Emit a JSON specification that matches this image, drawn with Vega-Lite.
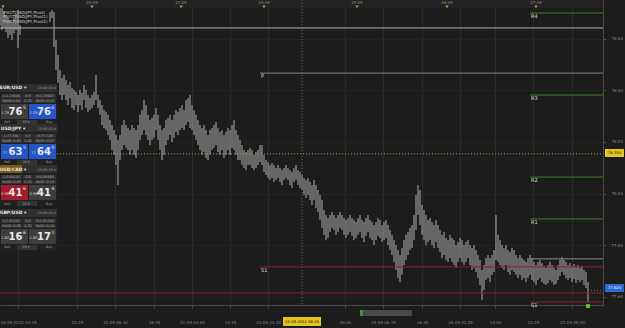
{
"$schema": "https://vega.github.io/schema/vega-lite/v6.json",
"width": 603,
"height": 305,
"autosize": {"type": "none"},
"padding": {"left": 0, "top": 0, "right": 22, "bottom": 23},
"background": "#1c1c1c",
"config": {
  "view": {"stroke": null},
  "axis": {"labelFont": "DejaVu Sans", "domainColor": "#4a4a4a", "tickColor": "#4a4a4a", "labelColor": "#8c8c8c"},
  "text": {"font": "DejaVu Sans"}
},
"resolve": {"scale": {"color": "independent"}},
"datasets": {
  "strip": [{"x": 0, "x2": 603, "t": 78.7504, "b": 78.7194}],
  "bars": [
    {"x":0,"h":78.731,"l":78.653},{"x":2,"h":78.719,"l":78.634},{"x":4,"h":78.704,"l":78.642},{"x":6,"h":78.692,"l":78.626},{"x":8,"h":78.681,"l":78.603},{"x":10,"h":78.673,"l":78.615},{"x":12,"h":78.665,"l":78.595},{"x":14,"h":78.681,"l":78.622},{"x":16,"h":78.696,"l":78.634},{"x":18,"h":78.712,"l":78.564},{"x":20,"h":78.653,"l":78.615},
    {"x":50,"h":78.704,"l":78.665},{"x":52,"h":78.712,"l":78.681},{"x":54,"h":78.704,"l":78.568},{"x":56,"h":78.595,"l":78.479},{"x":58,"h":78.537,"l":78.429},{"x":60,"h":78.479,"l":78.382},{"x":62,"h":78.448,"l":78.363},{"x":64,"h":78.460,"l":78.382},{"x":66,"h":78.440,"l":78.363},{"x":68,"h":78.421,"l":78.343},{"x":70,"h":78.433,"l":78.370},{"x":72,"h":78.409,"l":78.332},{"x":74,"h":78.402,"l":78.324},{"x":76,"h":78.394,"l":78.343},{"x":78,"h":78.382,"l":78.316},{"x":80,"h":78.402,"l":78.343},{"x":82,"h":78.390,"l":78.324},{"x":84,"h":78.421,"l":78.363},{"x":86,"h":78.402,"l":78.332},{"x":88,"h":78.382,"l":78.316},{"x":90,"h":78.370,"l":78.324},{"x":92,"h":78.382,"l":78.332},{"x":94,"h":78.394,"l":78.343},{"x":96,"h":78.460,"l":78.363},{"x":98,"h":78.382,"l":78.332},
    {"x":100,"h":78.363,"l":78.305},{"x":102,"h":78.343,"l":78.266},{"x":104,"h":78.324,"l":78.254},{"x":106,"h":78.316,"l":78.246},{"x":108,"h":78.305,"l":78.227},{"x":110,"h":78.285,"l":78.208},{"x":112,"h":78.266,"l":78.169},{"x":114,"h":78.246,"l":78.150},{"x":116,"h":78.227,"l":78.111},{"x":118,"h":78.208,"l":78.033},{"x":120,"h":78.227,"l":78.130},{"x":122,"h":78.266,"l":78.169},{"x":124,"h":78.285,"l":78.188},{"x":126,"h":78.266,"l":78.177},{"x":128,"h":78.254,"l":78.169},{"x":130,"h":78.246,"l":78.150},{"x":132,"h":78.266,"l":78.169},{"x":134,"h":78.254,"l":78.150},{"x":136,"h":78.246,"l":78.138},{"x":138,"h":78.266,"l":78.169},{"x":140,"h":78.305,"l":78.208},{"x":142,"h":78.324,"l":78.227},{"x":144,"h":78.363,"l":78.246},{"x":146,"h":78.343,"l":78.227},{"x":148,"h":78.305,"l":78.208},
    {"x":150,"h":78.285,"l":78.188},{"x":152,"h":78.293,"l":78.208},{"x":154,"h":78.305,"l":78.216},{"x":156,"h":78.332,"l":78.246},{"x":158,"h":78.305,"l":78.208},{"x":160,"h":78.266,"l":78.169},{"x":162,"h":78.246,"l":78.130},{"x":164,"h":78.254,"l":78.150},{"x":166,"h":78.285,"l":78.188},{"x":168,"h":78.293,"l":78.208},{"x":170,"h":78.305,"l":78.227},{"x":172,"h":78.285,"l":78.200},{"x":174,"h":78.305,"l":78.216},{"x":176,"h":78.324,"l":78.239},{"x":178,"h":78.316,"l":78.227},{"x":180,"h":78.332,"l":78.246},{"x":182,"h":78.343,"l":78.254},{"x":184,"h":78.324,"l":78.246},{"x":186,"h":78.363,"l":78.266},{"x":188,"h":78.370,"l":78.278},{"x":190,"h":78.382,"l":78.254},{"x":192,"h":78.343,"l":78.246},{"x":194,"h":78.324,"l":78.227},{"x":196,"h":78.305,"l":78.208},{"x":198,"h":78.285,"l":78.188},
    {"x":200,"h":78.266,"l":78.169},{"x":202,"h":78.254,"l":78.150},{"x":204,"h":78.266,"l":78.161},{"x":206,"h":78.246,"l":78.138},{"x":208,"h":78.227,"l":78.130},{"x":210,"h":78.246,"l":78.150},{"x":212,"h":78.254,"l":78.169},{"x":214,"h":78.266,"l":78.177},{"x":216,"h":78.278,"l":78.188},{"x":218,"h":78.254,"l":78.161},{"x":220,"h":78.239,"l":78.150},{"x":222,"h":78.246,"l":78.169},{"x":224,"h":78.227,"l":78.138},{"x":226,"h":78.239,"l":78.150},{"x":228,"h":78.254,"l":78.169},{"x":230,"h":78.246,"l":78.150},{"x":232,"h":78.266,"l":78.177},{"x":234,"h":78.285,"l":78.169},{"x":236,"h":78.246,"l":78.150},{"x":238,"h":78.227,"l":78.130},{"x":240,"h":78.208,"l":78.130},{"x":242,"h":78.188,"l":78.111},{"x":244,"h":78.169,"l":78.099},{"x":246,"h":78.161,"l":78.091},{"x":248,"h":78.169,"l":78.111},
    {"x":250,"h":78.177,"l":78.111},{"x":252,"h":78.169,"l":78.099},{"x":254,"h":78.150,"l":78.091},{"x":256,"h":78.161,"l":78.099},{"x":258,"h":78.169,"l":78.111},{"x":260,"h":78.188,"l":78.122},{"x":262,"h":78.188,"l":78.111},{"x":264,"h":78.150,"l":78.084},{"x":266,"h":78.130,"l":78.072},{"x":268,"h":78.122,"l":78.060},{"x":270,"h":78.111,"l":78.053},{"x":272,"h":78.119,"l":78.060},{"x":274,"h":78.111,"l":78.045},{"x":276,"h":78.099,"l":78.053},{"x":278,"h":78.111,"l":78.060},{"x":280,"h":78.099,"l":78.045},{"x":282,"h":78.091,"l":78.033},{"x":284,"h":78.099,"l":78.053},{"x":286,"h":78.111,"l":78.060},{"x":288,"h":78.099,"l":78.053},{"x":290,"h":78.091,"l":78.033},{"x":292,"h":78.084,"l":78.022},{"x":294,"h":78.099,"l":78.045},{"x":296,"h":78.111,"l":78.053},{"x":298,"h":78.091,"l":78.033},
    {"x":300,"h":78.084,"l":78.022},{"x":302,"h":78.072,"l":78.014},{"x":304,"h":78.060,"l":77.995},{"x":306,"h":78.053,"l":77.983},{"x":308,"h":78.060,"l":77.995},{"x":310,"h":78.045,"l":77.975},{"x":312,"h":78.033,"l":77.956},{"x":314,"h":78.053,"l":77.975},{"x":316,"h":78.033,"l":77.944},{"x":318,"h":78.014,"l":77.929},{"x":320,"h":77.995,"l":77.898},{"x":322,"h":77.975,"l":77.867},{"x":324,"h":77.936,"l":77.840},{"x":326,"h":77.917,"l":77.820},{"x":328,"h":77.905,"l":77.828},{"x":330,"h":77.917,"l":77.851},{"x":332,"h":77.929,"l":77.867},{"x":334,"h":77.917,"l":77.859},{"x":336,"h":77.905,"l":77.840},{"x":338,"h":77.917,"l":77.851},{"x":340,"h":77.929,"l":77.867},{"x":342,"h":77.917,"l":77.859},{"x":344,"h":77.905,"l":77.840},{"x":346,"h":77.898,"l":77.828},{"x":348,"h":77.905,"l":77.840},
    {"x":350,"h":77.917,"l":77.851},{"x":352,"h":77.905,"l":77.836},{"x":354,"h":77.898,"l":77.820},{"x":356,"h":77.890,"l":77.828},{"x":358,"h":77.905,"l":77.840},{"x":360,"h":77.917,"l":77.851},{"x":362,"h":77.898,"l":77.828},{"x":364,"h":77.890,"l":77.812},{"x":366,"h":77.905,"l":77.836},{"x":368,"h":77.917,"l":77.851},{"x":370,"h":77.898,"l":77.828},{"x":372,"h":77.890,"l":77.820},{"x":374,"h":77.878,"l":77.801},{"x":376,"h":77.890,"l":77.820},{"x":378,"h":77.905,"l":77.836},{"x":380,"h":77.898,"l":77.828},{"x":382,"h":77.878,"l":77.812},{"x":384,"h":77.890,"l":77.820},{"x":386,"h":77.898,"l":77.828},{"x":388,"h":77.878,"l":77.801},{"x":390,"h":77.859,"l":77.781},{"x":392,"h":77.840,"l":77.762},{"x":394,"h":77.820,"l":77.735},{"x":396,"h":77.801,"l":77.704},{"x":398,"h":77.781,"l":77.673},
    {"x":400,"h":77.762,"l":77.657},{"x":402,"h":77.789,"l":77.685},{"x":404,"h":77.820,"l":77.723},{"x":406,"h":77.840,"l":77.743},{"x":408,"h":77.851,"l":77.762},{"x":410,"h":77.867,"l":77.781},{"x":412,"h":77.878,"l":77.789},{"x":414,"h":77.917,"l":77.820},{"x":416,"h":77.995,"l":77.859},{"x":418,"h":78.033,"l":77.917},{"x":420,"h":78.014,"l":77.878},{"x":422,"h":77.956,"l":77.840},{"x":424,"h":77.936,"l":77.820},{"x":426,"h":77.917,"l":77.801},{"x":428,"h":77.898,"l":77.812},{"x":430,"h":77.905,"l":77.820},{"x":432,"h":77.890,"l":77.801},{"x":434,"h":77.878,"l":77.789},{"x":436,"h":77.898,"l":77.812},{"x":438,"h":77.878,"l":77.789},{"x":440,"h":77.859,"l":77.774},{"x":442,"h":77.840,"l":77.750},{"x":444,"h":77.851,"l":77.762},{"x":446,"h":77.828,"l":77.743},{"x":448,"h":77.820,"l":77.735},
    {"x":450,"h":77.840,"l":77.750},{"x":452,"h":77.828,"l":77.735},{"x":454,"h":77.820,"l":77.723},{"x":456,"h":77.801,"l":77.712},{"x":458,"h":77.812,"l":77.735},{"x":460,"h":77.828,"l":77.750},{"x":462,"h":77.820,"l":77.735},{"x":464,"h":77.801,"l":77.723},{"x":466,"h":77.812,"l":77.735},{"x":468,"h":77.820,"l":77.750},{"x":470,"h":77.801,"l":77.723},{"x":472,"h":77.789,"l":77.704},{"x":474,"h":77.801,"l":77.712},{"x":476,"h":77.781,"l":77.696},{"x":478,"h":77.762,"l":77.673},{"x":480,"h":77.743,"l":77.646},{"x":482,"h":77.704,"l":77.588},{"x":484,"h":77.723,"l":77.626},{"x":486,"h":77.750,"l":77.665},{"x":488,"h":77.762,"l":77.673},{"x":490,"h":77.750,"l":77.657},{"x":492,"h":77.762,"l":77.685},{"x":494,"h":77.781,"l":77.696},{"x":496,"h":77.917,"l":77.743},{"x":498,"h":77.840,"l":77.735},
    {"x":500,"h":77.820,"l":77.723},{"x":502,"h":77.801,"l":77.712},{"x":504,"h":77.789,"l":77.704},{"x":506,"h":77.801,"l":77.723},{"x":508,"h":77.781,"l":77.696},{"x":510,"h":77.774,"l":77.685},{"x":512,"h":77.789,"l":77.704},{"x":514,"h":77.781,"l":77.696},{"x":516,"h":77.762,"l":77.685},{"x":518,"h":77.750,"l":77.673},{"x":520,"h":77.762,"l":77.685},{"x":522,"h":77.750,"l":77.665},{"x":524,"h":77.743,"l":77.673},{"x":526,"h":77.735,"l":77.657},{"x":528,"h":77.750,"l":77.673},{"x":530,"h":77.762,"l":77.685},{"x":532,"h":77.750,"l":77.665},{"x":534,"h":77.735,"l":77.657},{"x":536,"h":77.723,"l":77.646},{"x":538,"h":77.735,"l":77.665},{"x":540,"h":77.743,"l":77.673},{"x":542,"h":77.731,"l":77.657},{"x":544,"h":77.719,"l":77.650},{"x":546,"h":77.712,"l":77.646},{"x":548,"h":77.723,"l":77.653},
    {"x":550,"h":77.735,"l":77.665},{"x":552,"h":77.723,"l":77.657},{"x":554,"h":77.712,"l":77.646},{"x":556,"h":77.704,"l":77.650},{"x":558,"h":77.723,"l":77.665},{"x":560,"h":77.743,"l":77.681},{"x":562,"h":77.754,"l":77.696},{"x":564,"h":77.743,"l":77.685},{"x":566,"h":77.735,"l":77.673},{"x":568,"h":77.723,"l":77.665},{"x":570,"h":77.731,"l":77.673},{"x":572,"h":77.719,"l":77.657},{"x":574,"h":77.727,"l":77.669},{"x":576,"h":77.716,"l":77.653},{"x":578,"h":77.723,"l":77.665},{"x":580,"h":77.712,"l":77.657},{"x":582,"h":77.719,"l":77.665},{"x":584,"h":77.704,"l":77.646},{"x":586,"h":77.696,"l":77.634},{"x":588,"h":77.657,"l":77.580}
  ],
  "levels": [
    {"name":"","from":0,"to":603,"price":78.642,"kind":"line"},
    {"name":"R4","from":530,"to":603,"price":78.700,"kind":"res"},
    {"name":"P","from":260,"to":603,"price":78.467,"kind":"pivot"},
    {"name":"R3","from":530,"to":603,"price":78.382,"kind":"res"},
    {"name":"R2","from":530,"to":603,"price":78.064,"kind":"res"},
    {"name":"R1","from":530,"to":603,"price":77.902,"kind":"res"},
    {"name":"","from":530,"to":603,"price":77.747,"kind":"pivot"},
    {"name":"S1","from":260,"to":603,"price":77.716,"kind":"sup"},
    {"name":"","from":0,"to":603,"price":77.615,"kind":"sup"},
    {"name":"S1","from":530,"to":603,"price":77.580,"kind":"sup"}
  ],
  "dotted": [
    {"from":0,"to":603,"price":78.154,"kind":"bid"},
    {"from":588,"to":603,"price":77.625,"kind":"ask"}
  ],
  "cross": [{"x": 302}],
  "wbox": [
    {"x":0,"x2":57,"t":78.4248,"b":78.2620,"k":"panel"},
    {"x":0,"x2":57,"t":78.4248,"b":78.3938,"k":"head"},
    {"x":1,"x2":22,"t":78.3861,"b":78.3706,"k":"cell"},{"x":23,"x2":33,"t":78.3861,"b":78.3706,"k":"cell"},{"x":34,"x2":56,"t":78.3861,"b":78.3706,"k":"cell"},
    {"x":1,"x2":22,"t":78.3667,"b":78.3512,"k":"cell"},{"x":23,"x2":33,"t":78.3667,"b":78.3512,"k":"cell"},{"x":34,"x2":56,"t":78.3667,"b":78.3512,"k":"cell"},
    {"x":1,"x2":28,"t":78.3473,"b":78.2892,"k":"gray"},{"x":29,"x2":56,"t":78.3473,"b":78.2892,"k":"buy"},
    {"x":17,"x2":37,"t":78.2853,"b":78.2659,"k":"cell"},
    {"x":0,"x2":57,"t":78.2698,"b":78.1070,"k":"panel"},
    {"x":0,"x2":57,"t":78.2698,"b":78.2388,"k":"head"},
    {"x":1,"x2":22,"t":78.2310,"b":78.2155,"k":"cell"},{"x":23,"x2":33,"t":78.2310,"b":78.2155,"k":"cell"},{"x":34,"x2":56,"t":78.2310,"b":78.2155,"k":"cell"},
    {"x":1,"x2":22,"t":78.2117,"b":78.1961,"k":"cell"},{"x":23,"x2":33,"t":78.2117,"b":78.1961,"k":"cell"},{"x":34,"x2":56,"t":78.2117,"b":78.1961,"k":"cell"},
    {"x":1,"x2":28,"t":78.1923,"b":78.1341,"k":"buy"},{"x":29,"x2":56,"t":78.1923,"b":78.1341,"k":"buy"},
    {"x":17,"x2":37,"t":78.1302,"b":78.1109,"k":"cell"},
    {"x":0,"x2":57,"t":78.1109,"b":77.9481,"k":"panel"},
    {"x":0,"x2":57,"t":78.1109,"b":78.0798,"k":"head"},
    {"x":0,"x2":22,"t":78.1109,"b":78.0798,"k":"cadhead"},
    {"x":1,"x2":22,"t":78.0721,"b":78.0566,"k":"cell"},{"x":23,"x2":33,"t":78.0721,"b":78.0566,"k":"cell"},{"x":34,"x2":56,"t":78.0721,"b":78.0566,"k":"cell"},
    {"x":1,"x2":22,"t":78.0527,"b":78.0372,"k":"cell"},{"x":23,"x2":33,"t":78.0527,"b":78.0372,"k":"cell"},{"x":34,"x2":56,"t":78.0527,"b":78.0372,"k":"cell"},
    {"x":1,"x2":28,"t":78.0334,"b":77.9752,"k":"red"},{"x":29,"x2":56,"t":78.0334,"b":77.9752,"k":"gray"},
    {"x":17,"x2":37,"t":77.9713,"b":77.9520,"k":"cell"},
    {"x":0,"x2":57,"t":77.9403,"b":77.7775,"k":"panel"},
    {"x":0,"x2":57,"t":77.9403,"b":77.9093,"k":"head"},
    {"x":1,"x2":22,"t":77.9016,"b":77.8861,"k":"cell"},{"x":23,"x2":33,"t":77.9016,"b":77.8861,"k":"cell"},{"x":34,"x2":56,"t":77.9016,"b":77.8861,"k":"cell"},
    {"x":1,"x2":22,"t":77.8822,"b":77.8667,"k":"cell"},{"x":23,"x2":33,"t":77.8822,"b":77.8667,"k":"cell"},{"x":34,"x2":56,"t":77.8822,"b":77.8667,"k":"cell"},
    {"x":1,"x2":28,"t":77.8628,"b":77.8047,"k":"gray"},{"x":29,"x2":56,"t":77.8628,"b":77.8047,"k":"gray"},
    {"x":17,"x2":37,"t":77.8008,"b":77.7814,"k":"cell"}
  ],
  "wtext": [
    {"x":13,"y":78.4074,"t":"EUR/USD ▾","r":"head"},{"x":45,"y":78.4074,"t":"13:40:20","r":"small"},{"x":55,"y":78.4074,"t":"×","r":"small"},
    {"x":11.5,"y":78.3783,"t":"L:1.28446","r":"small"},{"x":28,"y":78.3783,"t":"0.6","r":"small"},{"x":45,"y":78.3783,"t":"H:1.29007","r":"small"},
    {"x":11.5,"y":78.3589,"t":"RollB:0.04","r":"small"},{"x":28,"y":78.3589,"t":"0.70","r":"small"},{"x":45,"y":78.3589,"t":"RollS:-0.15","r":"small"},
    {"x":5,"y":78.3124,"t":"1.29","r":"pre"},{"x":15.5,"y":78.3163,"t":"76","r":"big"},{"x":24.5,"y":78.3318,"t":"5","r":"sup"},
    {"x":33.5,"y":78.3124,"t":"1.29","r":"pre"},{"x":44,"y":78.3163,"t":"76","r":"big"},{"x":53,"y":78.3318,"t":"6","r":"sup"},
    {"x":7,"y":78.2756,"t":"Sell","r":"small"},{"x":26,"y":78.2756,"t":"10    ▾","r":"small"},{"x":49,"y":78.2756,"t":"Buy","r":"small"},
    {"x":13,"y":78.2523,"t":"USD/JPY ▾","r":"head"},{"x":45,"y":78.2523,"t":"13:40:20","r":"small"},{"x":55,"y":78.2523,"t":"×","r":"small"},
    {"x":11.5,"y":78.2233,"t":"L:77.581","r":"small"},{"x":28,"y":78.2233,"t":"0.5","r":"small"},{"x":45,"y":78.2233,"t":"H:77.729","r":"small"},
    {"x":11.5,"y":78.2039,"t":"RollB:-0.05","r":"small"},{"x":28,"y":78.2039,"t":"1.00","r":"small"},{"x":45,"y":78.2039,"t":"RollS:-0.07","r":"small"},
    {"x":5,"y":78.1574,"t":"77","r":"pre"},{"x":15.5,"y":78.1612,"t":"63","r":"big"},{"x":24.5,"y":78.1768,"t":"5","r":"sup"},
    {"x":33.5,"y":78.1574,"t":"77","r":"pre"},{"x":44,"y":78.1612,"t":"64","r":"big"},{"x":53,"y":78.1768,"t":"0","r":"sup"},
    {"x":7,"y":78.1206,"t":"Sell","r":"small"},{"x":26,"y":78.1206,"t":"20    ▾","r":"small"},{"x":49,"y":78.1206,"t":"Buy","r":"small"},
    {"x":13,"y":78.0934,"t":"USD/CAD ▾","r":"head"},{"x":45,"y":78.0934,"t":"13:40:19","r":"small"},{"x":55,"y":78.0934,"t":"×","r":"small"},
    {"x":11.5,"y":78.0644,"t":"L:0.98142","r":"small"},{"x":28,"y":78.0644,"t":"0.6","r":"small"},{"x":45,"y":78.0644,"t":"H:0.98568","r":"small"},
    {"x":11.5,"y":78.0450,"t":"RollB:-0.05","r":"small"},{"x":28,"y":78.0450,"t":"0.70","r":"small"},{"x":45,"y":78.0450,"t":"RollS:-0.14","r":"small"},
    {"x":5,"y":77.9985,"t":"0.98","r":"pre"},{"x":15.5,"y":78.0023,"t":"41","r":"big"},{"x":24.5,"y":78.0178,"t":"6","r":"sup"},
    {"x":33.5,"y":77.9985,"t":"0.98","r":"pre"},{"x":44,"y":78.0023,"t":"41","r":"big"},{"x":53,"y":78.0178,"t":"4","r":"sup"},
    {"x":7,"y":77.9616,"t":"Sell","r":"small"},{"x":26,"y":77.9616,"t":"10    ▾","r":"small"},{"x":49,"y":77.9616,"t":"Buy","r":"small"},
    {"x":13,"y":77.9229,"t":"GBP/USD ▾","r":"head"},{"x":45,"y":77.9229,"t":"13:40:20","r":"small"},{"x":55,"y":77.9229,"t":"×","r":"small"},
    {"x":11.5,"y":77.8938,"t":"L:1.61391","r":"small"},{"x":28,"y":77.8938,"t":"0.9","r":"small"},{"x":45,"y":77.8938,"t":"H:1.62240","r":"small"},
    {"x":11.5,"y":77.8744,"t":"RollB:-0.05","r":"small"},{"x":28,"y":77.8744,"t":"0.70","r":"small"},{"x":45,"y":77.8744,"t":"RollS:-0.16","r":"small"},
    {"x":5,"y":77.8279,"t":"1.62","r":"pre"},{"x":15.5,"y":77.8318,"t":"16","r":"big"},{"x":24.5,"y":77.8473,"t":"6","r":"sup"},
    {"x":33.5,"y":77.8279,"t":"1.62","r":"pre"},{"x":44,"y":77.8318,"t":"17","r":"big"},{"x":53,"y":77.8473,"t":"1","r":"sup"},
    {"x":7,"y":77.7911,"t":"Sell","r":"small"},{"x":26,"y":77.7911,"t":"10    ▾","r":"small"},{"x":49,"y":77.7911,"t":"Buy","r":"small"}
  ],
  "days": [
    {"x":92,"y":78.738,"d":"20-09"},{"x":181,"y":78.738,"d":"21-09"},{"x":264,"y":78.738,"d":"24-09"},{"x":357,"y":78.738,"d":"25-09"},{"x":447,"y":78.738,"d":"26-09"},{"x":536,"y":78.738,"d":"27-09"}
  ],
  "flags": [
    {"x":3,"y":78.7233},{"x":92,"y":78.7233},{"x":181,"y":78.7233},{"x":264,"y":78.7233},{"x":357,"y":78.7233},{"x":447,"y":78.7233},{"x":536,"y":78.7233}
  ],
  "legend": [
    {"x":3,"y":78.700,"t":"PIVOT(USD/JPY,Pivot)"},
    {"x":3,"y":78.6826,"t":"PIVOT(USD/JPY,Pivot1)"},
    {"x":3,"y":78.6651,"t":"PIVOT(USD/JPY,Pivot2)"}
  ],
  "tags": [
    {"x":605,"x2":624,"t":78.1729,"b":78.1419,"k":"bid"},
    {"x":605,"x2":624,"t":77.6496,"b":77.6186,"k":"ask"},
    {"x":283,"x2":321,"t":77.5217,"b":77.4868,"k":"bid"},
    {"x":360,"x2":412,"t":77.5488,"b":77.5256,"k":"scroll"},
    {"x":360,"x2":363,"t":77.5488,"b":77.5256,"k":"green"}
  ],
  "tagtext": [
    {"x":614.5,"y":78.1574,"t":"78.154","k":"bid"},
    {"x":614.5,"y":77.6341,"t":"77.625","k":"ask"},
    {"x":302,"y":77.5042,"t":"24-09-2012 08:45","k":"bid"}
  ],
  "arrow": [{"x":588,"y":77.5644}]
},
"layer": [
  {
    "data": {"name": "bars"},
    "mark": {"type": "rule", "color": "#c2c2c2", "strokeWidth": 0.9},
    "encoding": {
      "x": {"field": "x", "type": "quantitative", "scale": {"domain": [0, 603], "nice": false, "zero": false},
        "axis": {"title": null, "orient": "bottom", "values": [18,77,115,154,192,230,268,345,383,422,460,495,533,572],
          "labelExpr": "datum.value==18?'18-09-2012 23:15':datum.value==77?'20:15':datum.value==115?'20-09 06:30':datum.value==154?'16:45':datum.value==192?'21-09 03:00':datum.value==230?'13:15':datum.value==268?'23-09 23:30':datum.value==345?'20:00':datum.value==383?'25-09 06:15':datum.value==422?'16:30':datum.value==460?'26-09 02:45':datum.value==495?'13:00':datum.value==533?'23:15':'27-09 09:30'",
          "labelFontSize": 4, "labelPadding": 12, "tickSize": 3, "grid": true, "gridColor": "#2a2a2a", "labelOverlap": false, "labelFlush": false}},
      "y": {"field": "h", "type": "quantitative", "scale": {"domain": [77.5682, 78.7504], "nice": false, "zero": false},
        "axis": {"title": null, "orient": "right", "values": [77.6,77.7,77.8,77.9,78.0,78.1,78.2,78.3,78.4,78.5,78.6,78.7], "format": ".2f",
          "labelFontSize": 4, "labelPadding": 5, "tickSize": 3, "grid": true, "gridColor": "#242424", "labelOverlap": false, "labelFlush": false}},
      "y2": {"field": "l"}
    }
  },
  {
    "data": {"name": "strip"},
    "mark": {"type": "rect", "color": "#232323"},
    "encoding": {
      "x": {"field": "x", "type": "quantitative"},
      "x2": {"field": "x2"},
      "y": {"field": "t", "type": "quantitative"},
      "y2": {"field": "b"}
    }
  },
  {
    "data": {"name": "levels"},
    "mark": {"type": "rule", "strokeWidth": 1},
    "encoding": {
      "x": {"field": "from", "type": "quantitative"},
      "x2": {"field": "to"},
      "y": {"field": "price", "type": "quantitative"},
      "color": {"field": "kind", "type": "nominal", "legend": null,
        "scale": {"domain": ["line","pivot","res","sup"], "range": ["#b0b0b0","#8a8a8a","#3f7f2e","#8a2228"]}}
    }
  },
  {
    "data": {"name": "dotted"},
    "mark": {"type": "rule", "strokeWidth": 1, "strokeDash": [1, 2]},
    "encoding": {
      "x": {"field": "from", "type": "quantitative"},
      "x2": {"field": "to"},
      "y": {"field": "price", "type": "quantitative"},
      "color": {"field": "kind", "type": "nominal", "legend": null,
        "scale": {"domain": ["bid","ask"], "range": ["#b8a040","#3a78d8"]}}
    }
  },
  {
    "data": {"name": "cross"},
    "mark": {"type": "rule", "color": "#6a6a6a", "strokeWidth": 1, "strokeDash": [1, 2]},
    "encoding": {"x": {"field": "x", "type": "quantitative"}}
  },
  {
    "data": {"name": "levels"},
    "transform": [{"filter": "datum.name !== ''"}],
    "mark": {"type": "text", "align": "left", "baseline": "top", "dx": 1, "dy": 1, "fontSize": 5, "color": "#dcdcdc"},
    "encoding": {
      "x": {"field": "from", "type": "quantitative"},
      "y": {"field": "price", "type": "quantitative"},
      "text": {"field": "name"}
    }
  },
  {
    "data": {"name": "wbox"},
    "mark": {"type": "rect"},
    "encoding": {
      "x": {"field": "x", "type": "quantitative"},
      "x2": {"field": "x2"},
      "y": {"field": "t", "type": "quantitative"},
      "y2": {"field": "b"},
      "color": {"field": "k", "type": "nominal", "legend": null,
        "scale": {"domain": ["panel","head","cadhead","cell","gray","buy","red"], "range": ["#202020","#2f2f2f","#7a5a14","#343434","#3e3e3e","#2356c4","#a31c2b"]}}
    }
  },
  {
    "data": {"name": "wtext"},
    "transform": [{"filter": "datum.r == 'head'"}],
    "mark": {"type": "text", "align": "center", "baseline": "middle", "fontSize": 4.5, "fontWeight": "bold", "color": "#e6e6e6"},
    "encoding": {"x": {"field": "x", "type": "quantitative"}, "y": {"field": "y", "type": "quantitative"}, "text": {"field": "t"}}
  },
  {
    "data": {"name": "wtext"},
    "transform": [{"filter": "datum.r == 'small'"}],
    "mark": {"type": "text", "align": "center", "baseline": "middle", "fontSize": 3.4, "color": "#a0a0a0"},
    "encoding": {"x": {"field": "x", "type": "quantitative"}, "y": {"field": "y", "type": "quantitative"}, "text": {"field": "t"}}
  },
  {
    "data": {"name": "wtext"},
    "transform": [{"filter": "datum.r == 'pre'"}],
    "mark": {"type": "text", "align": "center", "baseline": "middle", "fontSize": 3.6, "color": "#dddddd"},
    "encoding": {"x": {"field": "x", "type": "quantitative"}, "y": {"field": "y", "type": "quantitative"}, "text": {"field": "t"}}
  },
  {
    "data": {"name": "wtext"},
    "transform": [{"filter": "datum.r == 'big'"}],
    "mark": {"type": "text", "align": "center", "baseline": "middle", "fontSize": 10, "fontWeight": "bold", "color": "#e8e8e8"},
    "encoding": {"x": {"field": "x", "type": "quantitative"}, "y": {"field": "y", "type": "quantitative"}, "text": {"field": "t"}}
  },
  {
    "data": {"name": "wtext"},
    "transform": [{"filter": "datum.r == 'sup'"}],
    "mark": {"type": "text", "align": "center", "baseline": "middle", "fontSize": 4.5, "color": "#e8e8e8"},
    "encoding": {"x": {"field": "x", "type": "quantitative"}, "y": {"field": "y", "type": "quantitative"}, "text": {"field": "t"}}
  },
  {
    "data": {"name": "days"},
    "mark": {"type": "text", "align": "center", "baseline": "middle", "fontSize": 4, "color": "#8c8c8c"},
    "encoding": {"x": {"field": "x", "type": "quantitative"}, "y": {"field": "y", "type": "quantitative"}, "text": {"field": "d"}}
  },
  {
    "data": {"name": "flags"},
    "mark": {"type": "point", "shape": "triangle-down", "filled": true, "color": "#c9a22e", "size": 10, "opacity": 1},
    "encoding": {"x": {"field": "x", "type": "quantitative"}, "y": {"field": "y", "type": "quantitative"}}
  },
  {
    "data": {"name": "legend"},
    "mark": {"type": "text", "align": "left", "baseline": "middle", "fontSize": 4, "color": "#d0d0d0"},
    "encoding": {"x": {"field": "x", "type": "quantitative"}, "y": {"field": "y", "type": "quantitative"}, "text": {"field": "t"}}
  },
  {
    "data": {"name": "tags"},
    "mark": {"type": "rect"},
    "encoding": {
      "x": {"field": "x", "type": "quantitative"},
      "x2": {"field": "x2"},
      "y": {"field": "t", "type": "quantitative"},
      "y2": {"field": "b"},
      "color": {"field": "k", "type": "nominal", "legend": null,
        "scale": {"domain": ["bid","ask","scroll","green"], "range": ["#e6c420","#2f6ad0","#4a4a4a","#3a9a3a"]}}
    }
  },
  {
    "data": {"name": "tagtext"},
    "mark": {"type": "text", "align": "center", "baseline": "middle", "fontSize": 3.8},
    "encoding": {
      "x": {"field": "x", "type": "quantitative"},
      "y": {"field": "y", "type": "quantitative"},
      "text": {"field": "t"},
      "color": {"field": "k", "type": "nominal", "legend": null, "scale": {"domain": ["bid","ask"], "range": ["#111111","#f0f0f0"]}}
    }
  },
  {
    "data": {"name": "arrow"},
    "mark": {"type": "point", "shape": "circle", "filled": true, "color": "#66c22c", "size": 22, "opacity": 1},
    "encoding": {"x": {"field": "x", "type": "quantitative"}, "y": {"field": "y", "type": "quantitative"}}
  }
]
}
